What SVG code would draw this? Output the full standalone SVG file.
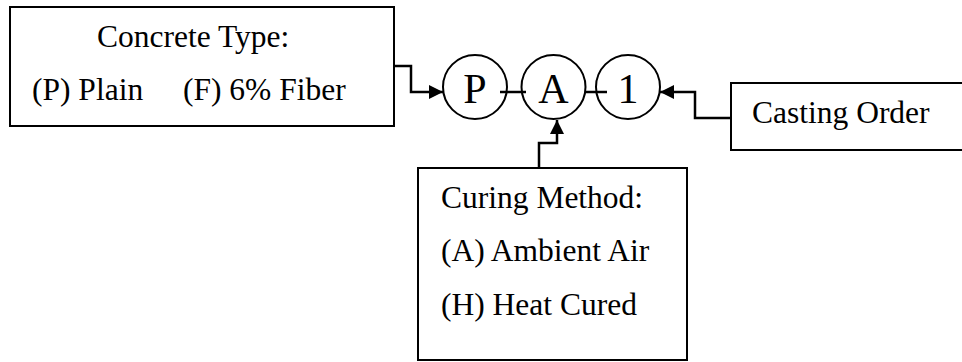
<svg xmlns="http://www.w3.org/2000/svg" width="962" height="362" viewBox="0 0 962 362">
<defs>
<style>
.box{fill:#fff;stroke:#000;stroke-width:2}
.t{font-family:"Liberation Serif","Times New Roman",serif;font-size:31.5px;fill:#000}
.c{font-family:"Liberation Serif","Times New Roman",serif;font-size:42px;fill:#000;text-anchor:middle}
.circ{fill:none;stroke:#000;stroke-width:2}
.ln{fill:none;stroke:#000;stroke-width:2.5}
</style>
<marker id="ah" viewBox="0 0 10 10" refX="10" refY="5" markerWidth="15" markerHeight="14" markerUnits="userSpaceOnUse" orient="auto">
<path d="M0,0 L10,5 L0,10 Z" fill="#000"/>
</marker>
</defs>
<rect width="962" height="362" fill="#fff"/>
<g id="connectors">
<polyline class="ln" points="394,66 411,66 411,92 443,92" marker-end="url(#ah)"/>
<polyline class="ln" points="731,118 695,118 695,92 660,92" marker-end="url(#ah)"/>
<polyline class="ln" points="539,168 539,143 557,143 557,120" marker-end="url(#ah)"/>
<line class="ln" x1="500" y1="92" x2="526" y2="92"/>
<line class="ln" x1="585" y1="92" x2="607" y2="92"/>
</g>
<g id="concrete-type">
<rect class="box" x="10" y="7" width="384" height="119"/>
<text class="t" x="97" y="47">Concrete Type:</text>
<text class="t" x="32" y="100">(P) Plain</text>
<text class="t" x="183" y="100">(F) 6% Fiber</text>
</g>
<g id="node-P">
<circle class="circ" cx="475" cy="87" r="32"/>
<text class="c" x="475" y="103">P</text>
</g>
<g id="node-A">
<circle class="circ" cx="553.5" cy="87" r="32"/>
<text class="c" x="553.5" y="103">A</text>
</g>
<g id="node-1">
<circle class="circ" cx="628" cy="87" r="32"/>
<text class="c" x="628" y="103">1</text>
</g>
<g id="casting-order">
<rect class="box" x="731" y="83" width="250" height="67"/>
<text class="t" x="752" y="123">Casting Order</text>
</g>
<g id="curing-method">
<rect class="box" x="418" y="168" width="269" height="192"/>
<text class="t" x="441" y="208">Curing Method:</text>
<text class="t" x="441" y="261">(A) Ambient Air</text>
<text class="t" x="441" y="315">(H) Heat Cured</text>
</g>
</svg>
